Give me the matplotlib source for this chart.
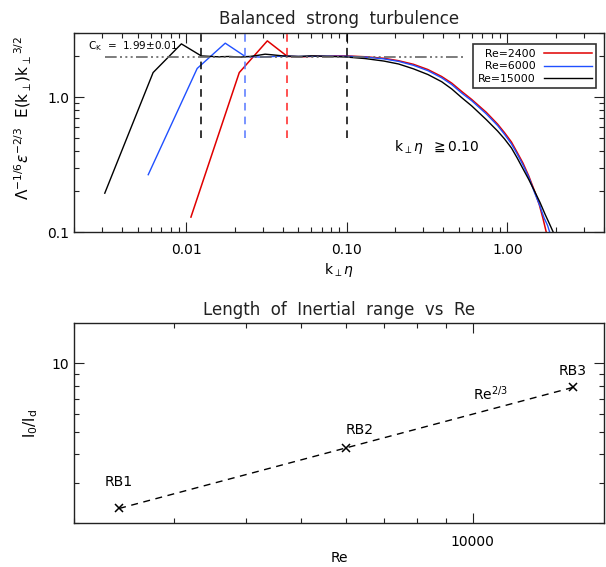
import numpy as np
from matplotlib import pyplot as plt
from matplotlib import ticker

# compensated spectra
k_2400 = [0.0107, 0.0214, 0.0320, 0.0427, 0.0534, 0.064, 0.075, 0.085, 0.1,
          0.13, 0.17, 0.21, 0.26, 0.32, 0.39, 0.45, 0.52, 0.6,
          0.74, 0.87, 0.96, 1.06, 1.15, 1.25, 1.36, 1.48,
          1.58, 1.67, 1.74, 1.78]
e_2400 = [0.129, 1.52, 2.61, 2.0, 1.99, 2.01, 2.0, 2.02, 2.02,
          1.99, 1.94, 1.86, 1.75, 1.60, 1.42, 1.27, 1.10, 0.96,
          0.77, 0.63, 0.545, 0.465, 0.39, 0.325, 0.26, 0.2,
          0.16, 0.125, 0.102, 0.09]

k_6000 = [0.0058, 0.0117, 0.0175, 0.0233, 0.029, 0.035, 0.041, 0.05, 0.07, 0.1,
          0.13, 0.17, 0.21, 0.26, 0.32, 0.39, 0.45, 0.52, 0.6,
          0.74, 0.87, 0.96, 1.06, 1.15, 1.25, 1.36, 1.48,
          1.59, 1.69, 1.78, 1.86]
e_6000 = [0.266, 1.63, 2.51, 2.0, 1.98, 2.0, 2.01, 2.0, 2.01, 2.01,
          1.98, 1.92, 1.84, 1.72, 1.57, 1.39, 1.24, 1.07, 0.94,
          0.75, 0.615, 0.53, 0.45, 0.38, 0.315, 0.255, 0.195,
          0.158, 0.128, 0.112, 0.095]

k_15000 = [0.00311, 0.00622, 0.00933, 0.0124, 0.0156, 0.0187, 0.0218, 0.0249, 0.028,
           0.031, 0.034, 0.04, 0.05, 0.06, 0.07, 0.08, 0.1,
           0.13, 0.17, 0.21, 0.26, 0.32, 0.39, 0.45, 0.52, 0.6,
           0.74, 0.87, 0.96, 1.06, 1.15, 1.25, 1.36, 1.48,
           1.6, 1.72, 1.83, 1.93, 2.0]
e_15000 = [0.194, 1.52, 2.48, 2.02, 1.99, 2.0, 1.98, 2.0, 2.04,
           2.08, 2.06, 2.02, 2.0, 2.02, 2.01, 2.0, 1.98,
           1.93, 1.85, 1.76, 1.62, 1.47, 1.30, 1.15, 0.99, 0.86,
           0.68, 0.56, 0.49, 0.42, 0.355, 0.295, 0.245, 0.2,
           0.165, 0.135, 0.115, 0.1, 0.09]

ck = 1.99
ck_range = [0.00312, 0.528]
vline_k = [0.0124, 0.0233, 0.0427, 0.1]
vline_col = ['k', '#5577ff', '#ff2222', 'k']

# inertial range length
re = [2400, 6000, 15000]
l_ratio = [2.31, 4.26, 7.85]
run_names = ['RB1', 'RB2', 'RB3']

RED = '#e00000'
BLUE = '#2050ff'

fig = plt.figure(figsize=(6.06, 5.67), dpi=100)
ax = fig.add_axes([0.1221, 0.5908, 0.8746, 0.3515])
ax2 = fig.add_axes([0.1221, 0.0781, 0.8746, 0.3517])

for a in (ax, ax2):
    a.set_xscale('log')
    a.set_yscale('log')
    a.tick_params(which='both', direction='in', top=True, right=True, labelsize=10, color='#222222')
    a.tick_params(which='major', length=7, width=0.8)
    a.tick_params(which='minor', length=3.5, width=0.8)
    for s in a.spines.values():
        s.set_linewidth(1.0)
        s.set_color('#222222')

# top panel; figure space (U+2007) pads the shorter labels so they line up on the right
ax.plot(k_2400, e_2400, color=RED, lw=1.1, label='\u2007Re=2400')
ax.plot(k_6000, e_6000, color=BLUE, lw=1.0, label='\u2007Re=6000')
ax.plot(k_15000, e_15000, color='k', lw=1.0, label='Re=15000')
ax.plot(ck_range, [ck, ck], color='#666666', lw=1.2, dashes=[7, 2, 1.2, 2, 1.2, 2, 1.2, 2])
for kk, cc in zip(vline_k, vline_col):
    ax.vlines(kk, 0.5, 3.0, colors=cc, linestyles=(0, (5, 4)), lw=1.1)

ax.set_xlim(0.002, 4.0)
ax.set_ylim(0.1, 3.0)
ax.xaxis.set_major_locator(ticker.FixedLocator([0.01, 0.1, 1.0]))
ax.xaxis.set_major_formatter(ticker.FixedFormatter(['0.01', '0.10', '1.00']))
ax.xaxis.set_minor_locator(ticker.LogLocator(subs=np.arange(2, 10)))
ax.xaxis.set_minor_formatter(ticker.NullFormatter())
ax.yaxis.set_major_locator(ticker.FixedLocator([0.1, 1.0]))
ax.yaxis.set_major_formatter(ticker.FixedFormatter(['0.1', '1.0']))
ax.yaxis.set_minor_locator(ticker.LogLocator(subs=np.arange(2, 10)))
ax.yaxis.set_minor_formatter(ticker.NullFormatter())
ax.tick_params(axis='x', pad=8)

ax.set_title('Balanced  strong  turbulence', fontsize=12, pad=6, color='#222222')
ax.set_xlabel(r'k$_\perp\eta$', fontsize=10, labelpad=3)
ax.set_ylabel(r'$\Lambda^{-1/6}\epsilon^{-2/3}$  E(k$_\perp$)k$_\perp$$^{3/2}$', fontsize=11)
ax.yaxis.set_label_coords(-0.075, 0.57)

ax.text(0.00245, 2.37, r'C$_\mathrm{K}$  =  1.99$\pm$0.01', fontsize=7.5, va='center')
ax.text(0.198, 0.43, r'k$_\perp\eta$  $\geqq$0.10', fontsize=10, va='center')

leg = ax.legend(loc='upper right', bbox_to_anchor=(0.985, 0.942), borderaxespad=0,
                fontsize=7.8, markerfirst=False, fancybox=False, edgecolor='#333333',
                framealpha=1, handlelength=4.4, labelspacing=0.25, handletextpad=0.8,
                borderpad=0.4)
leg.get_frame().set_linewidth(1.2)

# bottom panel
ax2.plot(re, l_ratio, color='k', lw=1.0, ls=(0, (5, 4)), marker='x', ms=6, mew=1.1)
ax2.text(re[0], 3.03, run_names[0], fontsize=10, ha='center', va='center')
ax2.text(re[1], 5.1, run_names[1], fontsize=10, ha='left', va='center')
ax2.text(re[2], 9.3, run_names[2], fontsize=10, ha='center', va='center')
ax2.text(10000, 7.4, r'Re$^{2/3}$', fontsize=10, ha='left', va='center')

ax2.set_xlim(2000, 17000)
ax2.set_ylim(2.0, 15.0)
ax2.xaxis.set_major_locator(ticker.FixedLocator([10000]))
ax2.xaxis.set_major_formatter(ticker.FixedFormatter(['10000']))
ax2.xaxis.set_minor_locator(ticker.LogLocator(subs=np.arange(2, 10)))
ax2.xaxis.set_minor_formatter(ticker.NullFormatter())
ax2.yaxis.set_major_locator(ticker.FixedLocator([10]))
ax2.yaxis.set_major_formatter(ticker.FixedFormatter(['10']))
ax2.yaxis.set_minor_locator(ticker.LogLocator(subs=np.arange(2, 10)))
ax2.yaxis.set_minor_formatter(ticker.NullFormatter())
ax2.tick_params(axis='x', pad=9)

ax2.set_title('Length  of  Inertial  range  vs  Re', fontsize=12, pad=6, color='#222222')
ax2.set_xlabel('Re', fontsize=10, labelpad=1)
ax2.set_ylabel(r'l$_0$/l$_\mathrm{d}$', fontsize=11)
ax2.yaxis.set_label_coords(-0.065, 0.5)

fig.savefig('out.png', dpi=100)
